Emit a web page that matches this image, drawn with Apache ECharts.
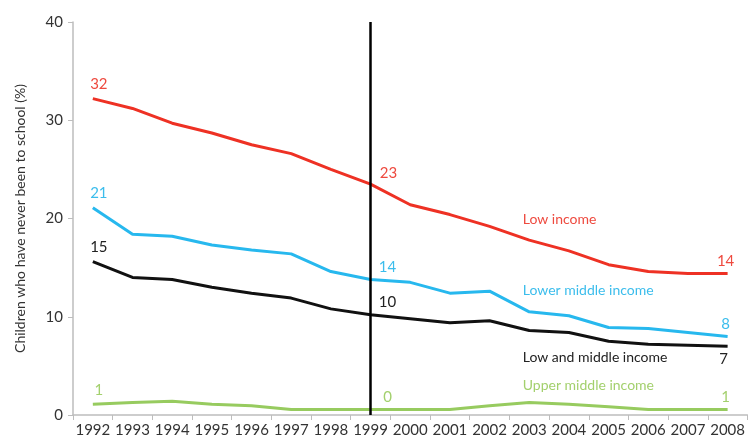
<!DOCTYPE html>
<html>
<head>
<meta charset="utf-8">
<script src="https://cdn.jsdelivr.net/npm/echarts@6/dist/echarts.min.js"></script>
<style>html,body{margin:0;padding:0;background:#fff;}#c{width:748px;height:438px;}</style>
</head>
<body>
<div id="c"></div>
<script>
var years = ['1992','1993','1994','1995','1996','1997','1998','1999','2000','2001','2002','2003','2004','2005','2006','2007','2008'];
var lowIncome = [32.2,31.2,29.7,28.7,27.5,26.6,25.0,23.5,21.4,20.4,19.2,17.8,16.7,15.3,14.6,14.4,14.4];
var lowerMiddle = [21.1,18.4,18.2,17.3,16.8,16.4,14.6,13.8,13.5,12.4,12.6,10.5,10.1,8.9,8.8,8.4,8.0];
var lowAndMiddle = [15.6,14.0,13.8,13.0,12.4,11.9,10.8,10.2,9.8,9.4,9.6,8.6,8.4,7.5,7.2,7.1,7.0];
var upperMiddle = [1.1,1.26,1.4,1.1,0.95,0.55,0.55,0.55,0.55,0.55,0.95,1.26,1.1,0.85,0.55,0.55,0.55];
var yTicks = [0,10,20,30,40];
var seriesNames = ['Low income','Lower middle income','Low and middle income','Upper middle income'];
var namePositions = [19.95, 12.7, 5.9, 3.0];
var lowIncomeLabels = {0:'32', 7:'23', 16:'14'};
var lowerMiddleLabels = {0:'21', 7:'14', 16:'8'};
var lowAndMiddleLabels = {0:'15', 7:'10', 16:'7'};
var upperMiddleLabels = {0:'1', 7:'0', 16:'1'};

var FONT = 'Lato';
var colors = ['#ee3124', '#27b8ee', '#111111', '#97cb5f'];
var labelColors = ['#ee4a3f', '#3bbdec', '#222222', '#a3d06d'];

function buildData(values, labels, color, idx) {
  return values.map(function (v, i) {
    var d = { value: v };
    if (labels[i] !== undefined) {
      var lab = { show: true, formatter: labels[i], color: color, fontFamily: FONT, fontSize: 15 };
      if (i === 0) {
        lab.position = 'top'; lab.offset = [6, -2];
      } else if (i === 7) {
        lab.position = 'top'; lab.offset = idx === 0 ? [18, 2] : [17, 0];
      } else {
        if (idx === 2) { lab.position = 'bottom'; lab.offset = [-4, 0]; }
        else { lab.position = 'top'; lab.offset = [-2, 0]; }
      }
      d.label = lab;
    }
    return d;
  });
}

function mkSeries(idx, values, labels) {
  var s = {
    name: seriesNames[idx],
    type: 'line',
    data: buildData(values, labels, labelColors[idx], idx),
    symbol: 'circle',
    symbolSize: 0,
    showSymbol: true,
    showAllSymbol: true,
    lineStyle: { color: colors[idx], width: 3 },
    itemStyle: { color: colors[idx] },
    label: { show: false },
    emphasis: { disabled: true },
    z: 3,
    markPoint: {
      symbol: 'circle',
      symbolSize: 1,
      itemStyle: { color: 'rgba(0,0,0,0)' },
      label: {
        show: true, position: 'right', distance: 0, offset: [-7, 0],
        formatter: seriesNames[idx], color: labelColors[idx], fontFamily: FONT, fontSize: 14
      },
      data: [{ coord: ['2003', namePositions[idx]] }]
    }
  };
  return s;
}

var series = [
  mkSeries(0, lowIncome, lowIncomeLabels),
  mkSeries(1, lowerMiddle, lowerMiddleLabels),
  mkSeries(2, lowAndMiddle, lowAndMiddleLabels),
  mkSeries(3, upperMiddle, upperMiddleLabels)
];
series[2].markLine = {
  symbol: 'none',
  silent: true,
  label: { show: false },
  lineStyle: { color: '#000', width: 2.5, type: 'solid' },
  data: [{ xAxis: '1999' }]
};

var chart = echarts.init(document.getElementById('c'));
chart.setOption({
  animation: false,
  backgroundColor: '#fff',
  textStyle: { fontFamily: FONT },
  grid: { left: 73, right: 0, top: 22, bottom: 20, containLabel: false },
  xAxis: {
    type: 'category',
    data: years,
    boundaryGap: true,
    axisLine: { lineStyle: { color: '#bdbdbd', width: 1.5 } },
    axisTick: { show: true, length: 5, lineStyle: { color: '#bdbdbd' }, alignWithLabel: false },
    axisLabel: { color: '#333', fontSize: 15, fontFamily: FONT, margin: 8, interval: 0 },
    splitLine: { show: false }
  },
  yAxis: {
    type: 'value',
    min: 0, max: 40, interval: 10,
    name: 'Children who have never been to school (%)',
    nameLocation: 'middle',
    nameGap: 46,
    nameTextStyle: { color: '#333', fontSize: 14, fontFamily: FONT },
    axisLine: { show: true, lineStyle: { color: '#bdbdbd', width: 1.5 } },
    axisTick: { show: true, length: 5, lineStyle: { color: '#bdbdbd' } },
    axisLabel: { color: '#333', fontSize: 15, fontFamily: FONT, margin: 10,
      formatter: function (v) { return yTicks.indexOf(v) >= 0 ? String(v) : ''; } },
    splitLine: { show: false }
  },
  series: series
});
</script>
</body>
</html>
